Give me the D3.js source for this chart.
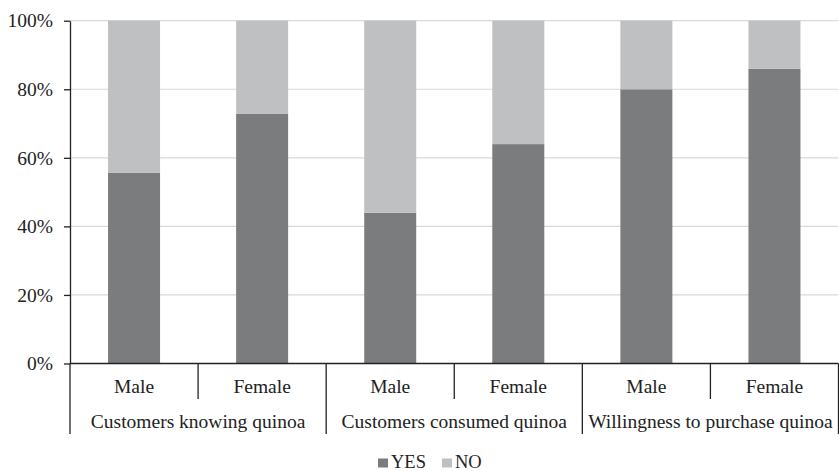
<!DOCTYPE html>
<html>
<head>
<meta charset="utf-8">
<script src="https://cdn.jsdelivr.net/npm/d3@7"></script>
<style>
  html, body { margin: 0; padding: 0; background: #fff; }
  svg { display: block; }
  svg text { font-family: "Liberation Serif", "Tinos", "Times New Roman", "DejaVu Serif", serif; }
</style>
</head>
<body>
<svg id="chart" width="839" height="471"></svg>
<script>
// Survey results by gender, shares in percent
const groups = ["Customers knowing quinoa", "Customers consumed quinoa", "Willingness to purchase quinoa"];
const genders = ["Male", "Female"];
const yesValues = [55.6, 72.8, 44, 64, 80, 86];
const seriesNames = ["YES", "NO"];
const yTicks = [0, 20, 40, 60, 80, 100];

const colors = { YES: "#7b7c7e", NO: "#bfc0c2" };
const serif = "'Liberation Serif', 'Tinos', 'Times New Roman', 'DejaVu Serif', serif";

const rows = [];
groups.forEach((g, gi) => {
  genders.forEach((s, si) => {
    const yes = yesValues[gi * genders.length + si];
    rows.push({ key: g + "|" + s, group: g, gender: s, YES: yes, NO: 100 - yes });
  });
});

const svg = d3.select("#chart");
const plotLeft = 70, plotRight = 838.5, plotTop = 20.7, plotBottom = 363.5;

const x = d3.scaleBand()
  .domain(rows.map(d => d.key))
  .range([plotLeft, plotRight])
  .paddingInner(0.594)
  .paddingOuter(0.297);

const y = d3.scaleLinear().domain([0, 100]).range([plotBottom, plotTop]);

// Gridlines
svg.append("g")
  .selectAll("line")
  .data(yTicks.filter(t => t > 0))
  .join("line")
  .attr("x1", plotLeft).attr("x2", plotRight)
  .attr("y1", d => y(d)).attr("y2", d => y(d))
  .attr("stroke", "#d9d9d9").attr("stroke-width", 1.2);

// Stacked bars
const stack = d3.stack().keys(seriesNames)(rows);
svg.append("g")
  .selectAll("g")
  .data(stack)
  .join("g")
  .attr("fill", d => colors[d.key])
  .selectAll("rect")
  .data(d => d)
  .join("rect")
  .attr("x", d => x(d.data.key))
  .attr("width", x.bandwidth())
  .attr("y", d => y(d[1]))
  .attr("height", d => y(d[0]) - y(d[1]));

// Y axis
const yAxis = svg.append("g")
  .attr("transform", `translate(${plotLeft},0)`)
  .call(d3.axisLeft(y).tickValues(yTicks).tickFormat(d => d + "%").tickSize(6).tickSizeOuter(0));
yAxis.attr("font-family", serif);
yAxis.select(".domain").attr("stroke", "#222").attr("stroke-width", 1.3);
yAxis.selectAll(".tick line").attr("stroke", "#222").attr("stroke-width", 1.3);
yAxis.selectAll(".tick text")
  .attr("x", -17)
  .style("font-family", serif)
  .attr("font-size", 19.5)
  .attr("fill", "#222");

// X axis baseline
svg.append("line")
  .attr("x1", plotLeft).attr("x2", plotRight)
  .attr("y1", plotBottom).attr("y2", plotBottom)
  .attr("stroke", "#222").attr("stroke-width", 1.5);

// Category separators: short between genders, long between groups
const step = x.step();
const boundaries = d3.range(rows.length + 1).map(i => ({
  x: plotLeft + i * step,
  long: i % genders.length === 0
}));
svg.append("g")
  .selectAll("line")
  .data(boundaries)
  .join("line")
  .attr("x1", d => d.x).attr("x2", d => d.x)
  .attr("y1", plotBottom)
  .attr("y2", d => d.long ? 434 : 399)
  .attr("stroke", "#222").attr("stroke-width", 1.3);

// Gender labels
svg.append("g")
  .selectAll("text")
  .data(rows)
  .join("text")
  .attr("x", d => x(d.key) + x.bandwidth() / 2)
  .attr("y", 393)
  .attr("text-anchor", "middle")
  .style("font-family", serif)
  .attr("font-size", 19.5)
  .attr("fill", "#222")
  .text(d => d.gender);

// Group labels
svg.append("g")
  .selectAll("text")
  .data(groups)
  .join("text")
  .attr("x", (d, i) => plotLeft + (i + 0.5) * step * genders.length)
  .attr("y", 428)
  .attr("text-anchor", "middle")
  .style("font-family", serif)
  .attr("font-size", 19.5)
  .attr("fill", "#222")
  .text(d => d);

// Legend
const legendItems = [
  { name: "YES", x: 378 },
  { name: "NO", x: 442 }
];
const lg = svg.append("g");
lg.selectAll("rect")
  .data(legendItems)
  .join("rect")
  .attr("x", d => d.x).attr("y", 458.5)
  .attr("width", 10).attr("height", 9)
  .attr("fill", d => colors[d.name]);
lg.selectAll("text")
  .data(legendItems)
  .join("text")
  .attr("x", d => d.x + 13).attr("y", 468)
  .style("font-family", serif)
  .attr("font-size", 18.5)
  .attr("fill", "#222")
  .text(d => d.name);
</script>
</body>
</html>
